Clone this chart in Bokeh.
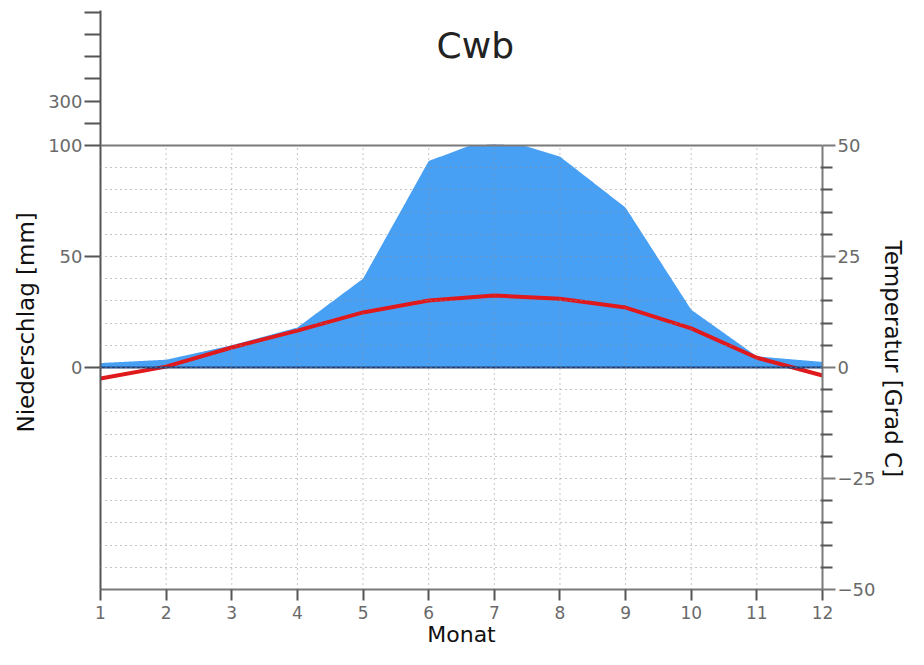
import numpy as np
from bokeh.plotting import figure
from bokeh.models import Range1d, LinearAxis, FixedTicker, Span, Label, Title
from bokeh.embed import file_html
from bokeh.resources import INLINE

# ---- data -------------------------------------------------------------
months = [1, 2, 3, 4, 5, 6, 7, 8, 9, 10, 11, 12]
precip_mm = [2, 3.5, 10, 18, 40, 93, 104, 95, 72, 26, 5, 2.5]
temp_c = [-2.5, 0.2, 4.5, 8.3, 12.4, 15.1, 16.2, 15.5, 13.5, 8.8, 2.2, -1.8]

title_text = "Cwb"
x_label = "Monat"
left_label = "Niederschlag [mm]"
right_label = "Temperatur  [Grad C]"
left_ticks = [0, 50, 100, 110, 120, 130, 140, 150, 160]      # plot units (compressed above 100)
left_tick_text = {0: "0", 50: "50", 100: "100", 110: "", 120: "300",
                  130: "", 140: "", 150: "", 160: ""}
right_ticks = [-50, -25, 0, 25, 50]
right_minor = [-45, -40, -35, -30, -20, -15, -10, -5, 5, 10, 15, 20, 30, 35, 40, 45]
right_tick_text = {-50: "\u221250", -25: "\u221225", 0: "0", 25: "25", 50: "50"}
grid_mm = list(range(-90, 100, 10))

FONT = "DejaVu Sans"
AXIS_GRAY = "#7a7a7a"
LABEL_GRAY = "#6a6a6a"
GRID_GRAY = "#8c8c8c"

# ---- figure -------------------------------------------------------------
p = figure(width=908, height=649, output_backend="svg", toolbar_location=None,
           x_range=Range1d(1, 12), y_range=Range1d(-100, 160.8),
           min_border_left=100, min_border_right=86, min_border_top=10,
           min_border_bottom=60, outline_line_color=None,
           background_fill_color="white", border_fill_color="white")
p.extra_y_ranges = {"temp": Range1d(-50, 80.4)}

# precipitation fill (render the polyline on a fine grid; compress > 100 mm by 1/10)
xf = np.linspace(1, 12, 1101)
pf = np.interp(xf, months, precip_mm)
p.varea(x=xf, y1=0, y2=np.minimum(pf, 100), fill_color="#48a0f5", fill_alpha=1.0)
over = np.where(pf > 100, 100 + (pf - 100) / 10.0, 100)
p.varea(x=xf, y1=100, y2=over, fill_color="#1f3fa0", fill_alpha=1.0)

# grids: horizontal every 10 mm, vertical at inner months (only below the 100 mm line)
p.xgrid.grid_line_color = None
p.ygrid.ticker = FixedTicker(ticks=grid_mm)
p.ygrid.grid_line_color = GRID_GRAY
p.ygrid.grid_line_dash = "1 4"
p.ygrid.grid_line_width = 1
p.ygrid.level = "overlay"
inner = months[1:-1]
p.segment(x0=inner, y0=[-100] * len(inner), x1=inner, y1=[100] * len(inner),
          line_color=GRID_GRAY, line_dash="1 4", line_width=1, level="overlay")

# lines at 0 and 100 mm
p.add_layout(Span(location=0, dimension="width", line_color="#1b3f7a", line_width=2))
p.add_layout(Span(location=100, dimension="width", line_color=AXIS_GRAY, line_width=2))

# temperature
p.line(months, temp_c, y_range_name="temp", line_color="#e0191d", line_width=4)

# left axis
ya = p.yaxis[0]
ya.ticker = FixedTicker(ticks=left_ticks, minor_ticks=[])
ya.major_label_overrides = left_tick_text
ya.axis_line_color = "#555555"
ya.axis_line_width = 2
ya.major_tick_line_color = "#555555"
ya.major_tick_line_width = 2
ya.major_tick_out = 16
ya.major_tick_in = 0
ya.minor_tick_line_color = None
ya.major_label_text_font = FONT
ya.major_label_text_font_size = "18px"
ya.major_label_text_color = LABEL_GRAY
ya.major_label_standoff = 2

# right axis
ra = LinearAxis(y_range_name="temp")
ra.ticker = FixedTicker(ticks=right_ticks, minor_ticks=right_minor)
ra.major_label_overrides = right_tick_text
ra.bounds = (-50, 50)
ra.axis_line_color = AXIS_GRAY
ra.axis_line_width = 2
ra.major_tick_line_color = AXIS_GRAY
ra.major_tick_line_width = 2
ra.major_tick_out = 13
ra.major_tick_in = 0
ra.minor_tick_line_color = "#555555"
ra.minor_tick_line_width = 2
ra.minor_tick_out = 10
ra.minor_tick_in = 2
ra.major_label_text_font = FONT
ra.major_label_text_font_size = "18px"
ra.major_label_text_color = LABEL_GRAY
ra.major_label_standoff = 2
p.add_layout(ra, "right")

# bottom axis
xa = p.xaxis[0]
xa.ticker = FixedTicker(ticks=months, minor_ticks=[])
xa.axis_line_color = AXIS_GRAY
xa.axis_line_width = 2
xa.major_tick_line_color = "#555555"
xa.major_tick_line_width = 2
xa.major_tick_out = 11
xa.major_tick_in = 0
xa.major_label_text_font = FONT
xa.major_label_text_font_size = "17px"
xa.major_label_text_color = LABEL_GRAY
xa.major_label_standoff = 5
xa.axis_label = x_label
xa.axis_label_text_font = FONT
xa.axis_label_text_font_size = "22px"
xa.axis_label_text_font_style = "normal"
xa.axis_label_text_color = "#111111"
xa.axis_label_standoff = 0

# side labels as side titles (positioned along the axes)
p.add_layout(Title(text=left_label, align="left", offset=157, vertical_align="bottom",
                   standoff=14, text_font=FONT, text_font_size="23px",
                   text_font_style="normal", text_color="#111111"), "left")
p.add_layout(Title(text=right_label, align="left", offset=230, vertical_align="bottom",
                   standoff=2, text_font=FONT, text_font_size="23px",
                   text_font_style="normal", text_color="#111111"), "right")

# title (inside the frame, above the 100 mm line)
p.add_layout(Label(x=6.71, y=145, text=title_text, text_font=FONT, text_font_size="36px",
                   text_color="#222222", text_align="center", text_baseline="middle"))

open("out.html", "w").write(file_html(p, INLINE))
